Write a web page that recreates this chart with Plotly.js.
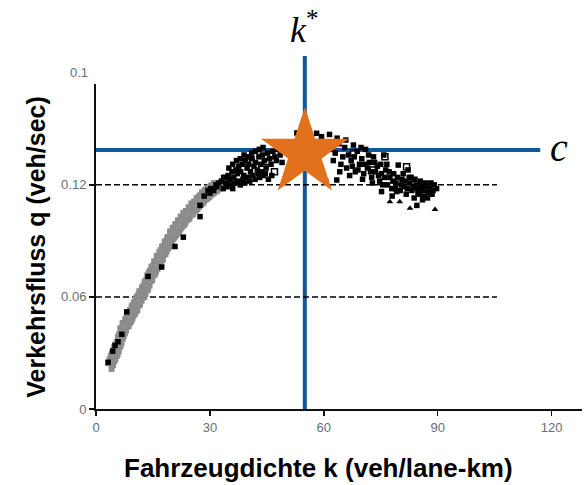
<!DOCTYPE html>
<html>
<head>
<meta charset="utf-8">
<script src="https://cdn.plot.ly/plotly-3.0.1.min.js"></script>
<style>
  html, body { margin: 0; padding: 0; background: #fff; }
  #chart { width: 588px; height: 485px; }
</style>
</head>
<body>
<div id="chart"></div>
<script>
// Free-flow branch (grey band), two sampled rows
const freeRowAX = [3.2,3.6,3.9,4.2,4.6,4.8,5.1,5.5,5.8,6.1,6.4,6.7,7.0,7.4,7.7,8.0,8.4,8.7,9.0,9.4,9.7,10.0,10.4,10.7,11.1,11.4,11.8,12.1,12.5,12.8,13.2,13.5,13.9,14.2,14.6,14.9,15.3,15.6,16.0,16.3,16.7,17.0,17.4,17.7,18.1,18.4,18.8,19.1,19.5,19.8,20.2,20.5,20.9,21.2,21.6,21.9,22.3,22.6,23.0,23.3,23.7,24.0,24.4,24.7,25.1,25.4,25.8,26.1,26.5,26.8,27.2,27.5,27.9,28.2,28.6,28.9,29.3,29.6,30.0,30.3,30.7,31.1];
const freeRowAY = [0.0245,0.0265,0.0285,0.030,0.0315,0.033,0.0345,0.036,0.0385,0.040,0.043,0.0435,0.046,0.046,0.048,0.049,0.0505,0.052,0.053,0.055,0.0555,0.057,0.0585,0.060,0.061,0.063,0.063,0.065,0.066,0.068,0.069,0.0715,0.073,0.074,0.076,0.0765,0.079,0.079,0.082,0.082,0.084,0.085,0.087,0.087,0.0895,0.090,0.092,0.092,0.095,0.095,0.097,0.097,0.099,0.099,0.101,0.101,0.103,0.102,0.105,0.104,0.106,0.106,0.108,0.107,0.110,0.109,0.111,0.111,0.113,0.112,0.114,0.1145,0.116,0.115,0.117,0.1175,0.118,0.1185,0.119,0.1195,0.120,0.121];
const freeRowBX = [4.1,4.5,4.8,5.1,5.5,5.7,6.0,6.4,6.7,7.0,7.3,7.6,7.9,8.3,8.6,8.9,9.3,9.6,9.9,10.3,10.6,10.9,11.3,11.6,12.0,12.3,12.7,13.0,13.4,13.7,14.1,14.4,14.8,15.1,15.5,15.8,16.2,16.5,16.9,17.2,17.6,17.9,18.3,18.6,19.0,19.3,19.7,20.0,20.4,20.7,21.1,21.4,21.8,22.1,22.5,22.8,23.2,23.5,23.9,24.2,24.6,24.9,25.3,25.6,26.0,26.3,26.7,27.0,27.4,27.7,28.1,28.4,28.8,29.1,29.5,29.8,30.2,30.5,30.9,31.2,31.6,32.0,32.5,33.0];
const freeRowBY = [0.0215,0.0235,0.0255,0.0265,0.0285,0.0295,0.031,0.0335,0.035,0.0375,0.039,0.0405,0.042,0.044,0.0445,0.046,0.047,0.0485,0.050,0.051,0.0525,0.053,0.0555,0.056,0.058,0.0595,0.060,0.0615,0.0635,0.064,0.066,0.0685,0.069,0.0715,0.072,0.0735,0.075,0.0765,0.078,0.079,0.080,0.0825,0.083,0.0845,0.086,0.087,0.088,0.0895,0.091,0.092,0.093,0.094,0.0945,0.096,0.097,0.098,0.0985,0.0995,0.101,0.1015,0.102,0.1035,0.104,0.1045,0.106,0.1065,0.107,0.108,0.109,0.1095,0.110,0.111,0.112,0.1125,0.113,0.1135,0.1145,0.115,0.1155,0.116,0.1165,0.117,0.118,0.119];

// Measured detector samples (black squares)
const obsX = [3.2,4.4,5.0,5.8,6.8,8.1,13.7,17.3,20.8,23.0,27.4,27.4,30.0,31.8,34.0,
  28.5,29.5,30.2,31.0,31.6,32.3,33.0,33.6,34.2,34.8,35.3,35.8,36.3,36.8,37.2,37.6,38.1,38.5,38.9,39.4,39.8,40.2,40.7,41.1,41.6,42.0,42.5,42.9,43.4,43.8,44.3,44.8,45.2,45.7,46.1,46.6,47.1,47.5,48.0,48.5,49.0,
  33.5,34.5,35.5,36.0,36.6,37.4,38.0,38.7,39.2,39.9,40.5,41.3,41.9,42.7,43.1,43.6,44.0,44.6,45.4,46.3,
  35.0,36.0,37.0,38.0,39.0,40.0,41.0,42.0,43.0,44.0,
  50.0,51.0,52.0,52.9,53.0,54.0,55.0,56.0,56.4,57.0,58.1,59.4,60.0,61.0,62.0,63.0,64.0,65.0,
  66.0,66.5,67.2,67.8,68.3,68.8,69.4,70.0,70.5,71.0,71.5,72.0,72.6,73.1,73.6,74.1,74.7,75.2,75.8,76.3,76.8,77.4,77.9,78.4,79.0,79.6,80.1,80.6,81.1,81.7,82.2,82.7,83.2,83.8,84.3,84.8,85.4,85.9,86.4,87.1,87.6,88.2,88.8,89.7,
  64.5,65.5,66.8,67.5,68.0,69.0,69.8,70.8,71.8,72.3,73.4,74.4,75.0,75.5,76.0,76.6,77.2,78.2,78.8,79.4,80.4,80.9,81.4,82.0,82.5,83.5,84.0,84.6,85.1,85.7,86.2,86.8,87.3,87.9,88.5,89.1,61.5,63.5,65.8,62.5,64.2,
  63.4,60.5,75.2,79.2,86.0,84.5,70.2,72.8,78.0,83.0];
const obsY = [0.025,0.031,0.034,0.036,0.040,0.052,0.071,0.076,0.087,0.092,0.103,0.109,0.1156,0.119,0.124,
  0.114,0.117,0.118,0.117,0.120,0.121,0.122,0.124,0.121,0.125,0.123,0.127,0.124,0.128,0.126,0.130,0.127,0.131,0.125,0.133,0.129,0.131,0.127,0.134,0.130,0.132,0.128,0.135,0.131,0.136,0.133,0.129,0.137,0.134,0.131,0.138,0.135,0.133,0.139,0.136,0.132,
  0.118,0.119,0.120,0.118,0.121,0.122,0.120,0.123,0.121,0.124,0.122,0.125,0.123,0.126,0.124,0.127,0.125,0.126,0.123,0.125,
  0.129,0.131,0.133,0.134,0.136,0.135,0.137,0.138,0.139,0.140,
  0.140,0.137,0.142,0.1478,0.139,0.144,0.141,0.146,0.145,0.138,0.1476,0.1458,0.141,0.143,0.139,0.137,0.142,0.135,
  0.129,0.136,0.133,0.1413,0.127,0.138,0.131,0.134,0.126,0.139,0.129,0.132,0.124,0.135,0.127,0.130,0.122,0.126,0.136,0.128,0.120,0.124,0.118,0.126,0.121,0.1306,0.117,0.123,0.119,0.115,0.128,0.121,0.117,0.113,0.120,0.116,0.122,0.118,0.114,0.119,0.116,0.121,0.117,0.118,
  0.131,0.140,0.125,0.130,0.135,0.128,0.140,0.131,0.136,0.127,0.132,0.125,0.131,0.120,0.124,0.131,0.127,0.122,0.118,0.124,0.120,0.126,0.122,0.118,0.124,0.119,0.123,0.118,0.115,0.120,0.117,0.121,0.113,0.118,0.115,0.120,0.147,0.145,0.144,0.133,0.127,
  0.1226,0.122,0.1164,0.1164,0.112,0.109,0.123,0.121,0.114,0.124];

// Open-square samples
const obsOpenX = [39.7,45.0,47.0,67.8,76.1,81.8,73.0];
const obsOpenY = [0.1325,0.1325,0.127,0.137,0.135,0.1297,0.128];

// Triangle samples (congested tail)
const obsTriX = [82.7,89.3,77.4,80.0];
const obsTriY = [0.1075,0.1068,0.111,0.111];

// Critical density and capacity
const kCrit = 55;
const capacity = 0.1387;
const optimumX = [55];
const optimumY = [0.137];

// Axis ticks
const xTicks = [0, 30, 60, 90, 120];
const xTickText = ['0', '30', '60', '90', '120'];
const yTicks = [0, 0.06, 0.12];
const yTickText = ['0', '0.06', '0.12'];
const yTopLabelValue = 0.18;
const yTopLabelText = '0.1';
const refLines = [0.06, 0.12];

const xRange = [0, 128];
const yRange = [0, 0.174];

const blue = '#11589b';
const tickFont = {family: '"Liberation Sans Narrow", "Arial Narrow", "Liberation Sans", Arial, sans-serif', size: 13, color: '#6a6a78'};

const traces = [
  {x: freeRowAX, y: freeRowAY, type: 'scatter', mode: 'markers',
   marker: {symbol: 'square', size: 6, color: '#8c8c8c'}, hoverinfo: 'skip'},
  {x: freeRowBX, y: freeRowBY, type: 'scatter', mode: 'markers',
   marker: {symbol: 'square', size: 6, color: '#8c8c8c'}, hoverinfo: 'skip'},
  {x: obsX, y: obsY, type: 'scatter', mode: 'markers',
   marker: {symbol: 'square', size: 5.5, color: '#000'}},
  {x: obsOpenX, y: obsOpenY, type: 'scatter', mode: 'markers',
   marker: {symbol: 'square-open', size: 6, color: '#000', line: {width: 1.5}}},
  {x: obsTriX, y: obsTriY, type: 'scatter', mode: 'markers',
   marker: {symbol: 'triangle-up', size: 6, color: '#000'}},
  {x: optimumX, y: optimumY, type: 'scatter', mode: 'markers', cliponaxis: false,
   marker: {symbol: 'star', size: 66, color: '#e2711d', line: {width: 0}}}
];

const shapes = [];
refLines.forEach(v => shapes.push({
  type: 'line', xref: 'x', yref: 'y', x0: 0, x1: 105.6, y0: v, y1: v,
  line: {color: '#000', width: 1.5, dash: '6px,3px'}, layer: 'below'
}));
// capacity line
shapes.push({type: 'line', xref: 'x', yref: 'y', x0: 0, x1: 117, y0: capacity, y1: capacity,
  line: {color: blue, width: 4}, layer: 'below'});
// critical density line, running above the plot
shapes.push({type: 'line', xref: 'x', yref: 'paper', x0: kCrit, x1: kCrit, y0: 0, y1: 1.086,
  line: {color: blue, width: 4}, layer: 'below'});

const annotations = [
  {xref: 'paper', yref: 'paper', x: 0, y: yTopLabelValue / yRange[1], xanchor: 'right', yanchor: 'middle',
   xshift: -6, text: yTopLabelText, showarrow: false, font: tickFont},
  {xref: 'x', yref: 'paper', x: kCrit, y: 1.175, xanchor: 'center', yanchor: 'middle',
   text: '<i>k</i><sup>*</sup>', showarrow: false,
   font: {family: '"Liberation Serif", "DejaVu Serif", serif', size: 36, color: '#000'}},
  {xref: 'x', yref: 'y', x: 122, y: capacity, xanchor: 'center', yanchor: 'middle',
   text: '<i>c</i>', showarrow: false, yshift: 2,
   font: {family: '"Liberation Serif", "DejaVu Serif", serif', size: 40, color: '#000'}},
  {xref: 'paper', yref: 'paper', x: (318 - 96) / 486, y: -0.18, xanchor: 'center', yanchor: 'middle',
   text: '<b>Fahrzeugdichte k (veh/lane-km)</b>', showarrow: false,
   font: {family: '"Liberation Sans", Arial, sans-serif', size: 26, color: '#000'}},
  {xref: 'paper', yref: 'paper', x: -0.125, y: 0.5, xanchor: 'center', yanchor: 'middle', textangle: -90,
   text: '<b>Verkehrsfluss q (veh/sec)</b>', showarrow: false,
   font: {family: '"Liberation Sans", Arial, sans-serif', size: 25, color: '#000'}}
];

const layout = {
  width: 588, height: 485,
  margin: {l: 96, r: 6, t: 84, b: 76, pad: 0},
  paper_bgcolor: '#fff', plot_bgcolor: '#fff',
  showlegend: false,
  xaxis: {range: xRange, showgrid: false, zeroline: false, showline: true, linecolor: '#111', linewidth: 2,
    ticks: 'outside', ticklen: 5, tickwidth: 1.5, tickcolor: '#111',
    tickvals: xTicks, ticktext: xTickText, tickfont: tickFont},
  yaxis: {range: yRange, showgrid: false, zeroline: false, showline: true, linecolor: '#111', linewidth: 2,
    ticks: 'outside', ticklen: 5, tickwidth: 1.5, tickcolor: '#111',
    tickvals: yTicks, ticktext: yTickText, tickfont: tickFont},
  shapes: shapes,
  annotations: annotations
};

Plotly.newPlot('chart', traces, layout, {staticPlot: true, displayModeBar: false});
</script>
</body>
</html>
